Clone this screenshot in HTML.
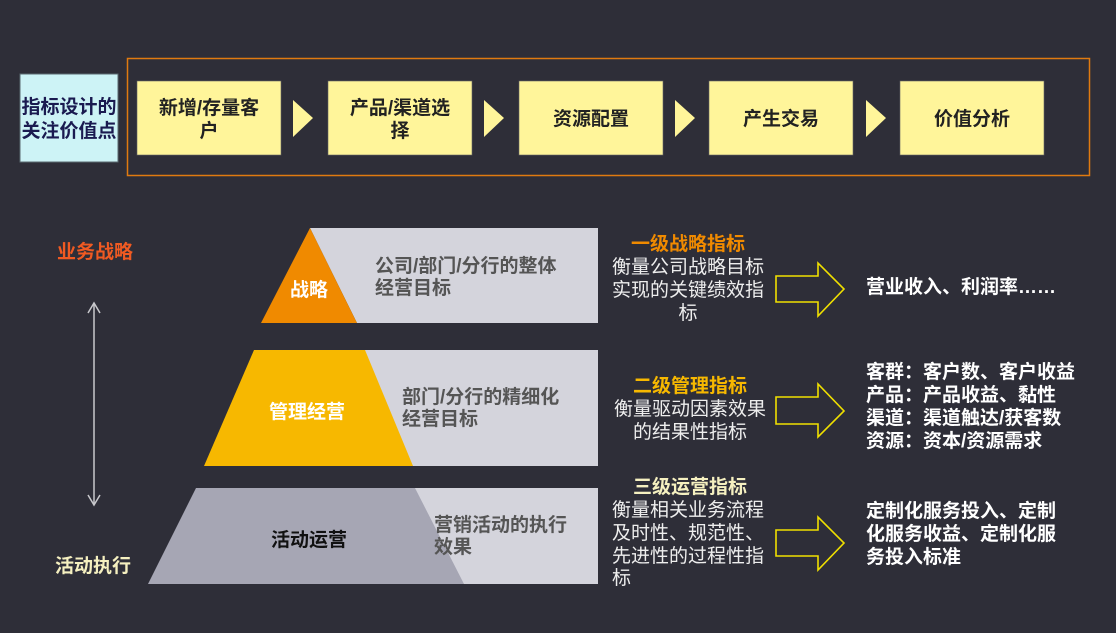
<!DOCTYPE html>
<html><head><meta charset="utf-8"><style>
html,body{margin:0;padding:0;background:#2e2e38;}
svg{display:block;font-family:"Liberation Sans","Noto Sans CJK SC",sans-serif;}
.b{font-weight:bold;}
</style></head><body>
<svg width="1116" height="633" viewBox="0 0 1116 633" xmlns="http://www.w3.org/2000/svg">
<rect width="1116" height="633" fill="#2e2e38"/>
<rect x="20" y="74" width="98" height="88" fill="#cdf3f6" stroke="#5a6a70" stroke-width="1"/>
<text x="69" y="113" text-anchor="middle" font-size="19" class="b" fill="#1a1a50">指标设计的</text>
<text x="69" y="137" text-anchor="middle" font-size="19" class="b" fill="#1a1a50">关注价值点</text>
<rect x="127.5" y="58.5" width="962" height="117" fill="none" stroke="#e07a10" stroke-width="1.5"/>
<g fill="#fff59a" stroke="#666" stroke-width="0.6">
<rect x="137" y="81" width="144" height="74"/>
<rect x="328" y="81" width="144" height="74"/>
<rect x="519" y="81" width="144" height="74"/>
<rect x="709" y="81" width="144" height="74"/>
<rect x="900" y="81" width="144" height="74"/>
</g>
<g fill="#fff59a">
<polygon points="293,100 313,118 293,137"/>
<polygon points="484,100 504,118 484,137"/>
<polygon points="675,100 695,118 675,137"/>
<polygon points="866,100 886,118 866,137"/>
</g>
<g font-size="19" class="b" fill="#222" text-anchor="middle">
<text x="209" y="114">新增/存量客</text><text x="209" y="137">户</text>
<text x="400" y="114">产品/渠道选</text><text x="400" y="137">择</text>
<text x="591" y="125">资源配置</text>
<text x="781" y="125">产生交易</text>
<text x="972" y="125">价值分析</text>
</g>
<text x="95" y="258" text-anchor="middle" font-size="19" class="b" fill="#f05a22">业务战略</text>
<text x="93" y="572" text-anchor="middle" font-size="19" class="b" fill="#f5f0c0">活动执行</text>
<g stroke="#c8c8cc" stroke-width="1.5" fill="none">
<line x1="94" y1="303" x2="94" y2="505"/>
<polyline points="88,313 94,303 100,313"/>
<polyline points="88,495 94,505 100,495"/>
</g>
<polygon points="310,228 598,228 598,323 357,323" fill="#d4d4dc"/>
<polygon points="310,228 357,323 261,323" fill="#f08a00"/>
<polygon points="254,350 598,350 598,466 413,466" fill="#d4d4dc"/>
<polygon points="254,350 365,350 413,466 204,466" fill="#f7b800"/>
<polygon points="196,488 598,488 598,584 464,584" fill="#d4d4dc"/>
<polygon points="196,488 415,488 464,584 148,584" fill="#a6a6b4"/>
<g font-size="19" class="b">
<text x="309" y="296" text-anchor="middle" fill="#fff">战略</text>
<text x="307" y="418" text-anchor="middle" fill="#fff">管理经营</text>
<text x="309" y="546" text-anchor="middle" fill="#111">活动运营</text>
<g fill="#555">
<text x="375" y="272">公司/部门/分行的整体</text><text x="375" y="294">经营目标</text>
<text x="402" y="403">部门/分行的精细化</text><text x="402" y="425">经营目标</text>
<text x="434" y="531">营销活动的执行</text><text x="434" y="553">效果</text>
</g>
</g>
<g font-size="19" text-anchor="middle">
<text x="688" y="250" class="b" fill="#f08a00">一级战略指标</text>
<g fill="#eee"><text x="688" y="273">衡量公司战略目标</text><text x="688" y="296">实现的关键绩效指</text><text x="688" y="319">标</text></g>
<text x="690" y="392" class="b" fill="#f7b800">二级管理指标</text>
<g fill="#eee"><text x="690" y="415">衡量驱动因素效果</text><text x="690" y="438">的结果性指标</text></g>
<text x="690" y="493" class="b" fill="#f5f0c0">三级运营指标</text>
</g>
<g font-size="19" fill="#eee">
<text x="612" y="516">衡量相关业务流程</text><text x="612" y="539">及时性、规范性、</text><text x="612" y="562">先进性的过程性指</text><text x="612" y="584">标</text>
</g>
<g fill="none" stroke="#f0e000" stroke-width="1.6">
<polygon points="776,276 818,276 818,263 844,289 818,316 818,302 776,302"/>
<polygon points="776,397 818,397 818,384 844,411 818,437 818,424 776,424"/>
<polygon points="776,530 818,530 818,517 844,543 818,570 818,556 776,556"/>
</g>
<g font-size="19" class="b" fill="#fff">
<text x="866" y="293">营业收入、利润率……</text>
<text x="866" y="378">客群：客户数、客户收益</text>
<text x="866" y="401">产品：产品收益、黏性</text>
<text x="866" y="424">渠道：渠道触达/获客数</text>
<text x="866" y="447">资源：资本/资源需求</text>
<text x="866" y="517">定制化服务投入、定制</text>
<text x="866" y="540">化服务收益、定制化服</text>
<text x="866" y="563">务投入标准</text>
</g>
</svg>
</body></html>
